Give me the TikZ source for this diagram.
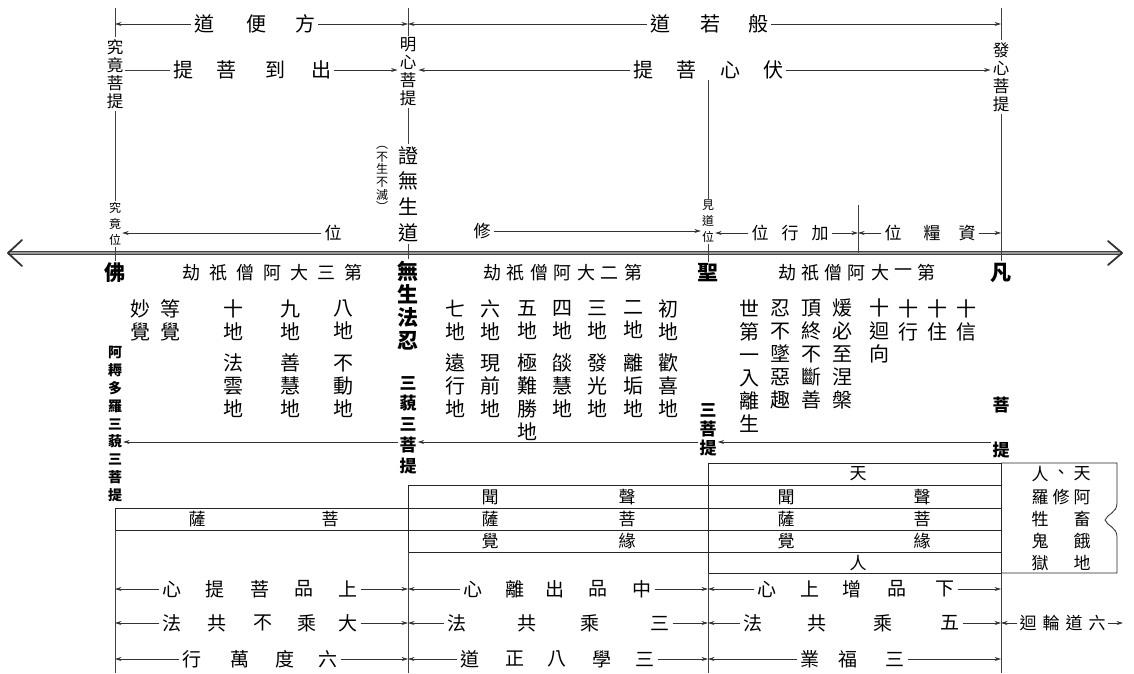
\documentclass[tikz,border=0pt]{standalone}
\usepackage{fontspec}
\setmainfont{Noto Sans CJK TC}
\usetikzlibrary{arrows.meta}

\begin{document}
\begin{tikzpicture}[x=1pt,y=-1pt,
    arr/.style={-{Stealth[length=6.5pt,width=4pt]}, line width=0.6pt, draw=black!80},
    vline/.style={line width=0.7pt, draw=black!75},
    box/.style={line width=0.8pt, draw=black!85},
    axis/.style={draw=black!75, double=black!40, line width=1.2pt, double distance=1.6pt},
    chev/.style={line width=1.8pt, draw=black!80, line cap=round, line join=round},
    lbl/.style={font=\fontsize{20}{24}\selectfont, inner sep=3pt},
    rowlbl/.style={font=\fontsize{19}{22}\selectfont, inner sep=3pt},
    poslbl/.style={font=\fontsize{17}{20}\selectfont, inner sep=3pt},
    vert/.style={font=\fontsize{16.5}{18}\selectfont, align=center, inner sep=2pt},
    smallvert/.style={font=\fontsize{12}{16}\selectfont, align=center, inner sep=1pt},
    colm/.style={font=\fontsize{20}{23}\selectfont, align=center, inner sep=0pt},
    kalpa/.style={font=\fontsize{18}{20}\selectfont, inner sep=0pt},
    stage/.style={font=\fontsize{21}{23}\selectfont\bfseries, align=center, inner sep=2pt},
    bsmall/.style={font=\fontsize{17}{20}\selectfont\bfseries, align=center, inner sep=1pt},
    boxt/.style={font=\fontsize{17}{20}\selectfont, inner sep=0pt},
    ]
    \useasboundingbox (0,0) rectangle (1134,673);

    \pgfmathsetmacro{\axy}{253}

    \coordinate (jj) at (115,0);
    \coordinate (mx) at (408,0);
    \coordinate (jd) at (708,0);
    \coordinate (fx) at (1001,0);
    \coordinate (zl) at (858,0);
    \coordinate (ar) at (0,442);

    \coordinate (jjtop) at (115,8);
    \coordinate (mxtop) at (408,8);
    \coordinate (fxtop) at (1001,8);
    \coordinate (jdtop) at (708,80);
    \coordinate (zltop) at (858,205);
    \coordinate (zlbot) at (858,\axy);
    \coordinate (lhend) at (1123,623);

    % main axis
    \coordinate (axl) at (8,\axy);
    \coordinate (axr) at (1122,\axy);
    \draw[axis] (axl) -- (axr);
    \draw[chev] (axl) ++(14,-13) -- (axl) -- ++(14,13);
    \draw[chev] (axr) ++(-14,-12) -- (axr) -- ++(-14,12);

    % vertical labels
    \node[vert] (jjpt) at (115,74) {究\\竟\\菩\\提};
    \node[vert] (mxpt) at (408,72) {明\\心\\菩\\提};
    \node[vert] (fxpt) at (1001,77) {發\\心\\菩\\提};
    \node[smallvert] (jjw) at (115,224) {究\\竟\\位};
    \node[smallvert] (jdw) at (708,221) {見\\道\\位};
    \node[font=\fontsize{20}{25.7}\selectfont, align=center, inner sep=2pt] (zw) at (408,194) {證\\無\\生\\道};
    \node[font=\fontsize{12}{12.6}\selectfont, align=center, inner sep=0pt] (bsbm) at (382,179) {︵\\不\\生\\不\\滅\\︶};

    \node[stage] (fo) at (115,273) {佛};
    \node[stage] (wsfr) at (408,306) {無\\生\\法\\忍};
    \node[stage] (sheng) at (708,273) {聖};
    \node[stage] (fan) at (1001,273) {凡};

    \draw[vline] (jjtop) -- (jjpt.north);
    \draw[vline] (jjpt.south) -- (jjw.north);
    \draw[vline] (jjw.south) -- (fo.north);
    \draw[vline] (mxtop) -- (mxpt.north);
    \draw[vline] (mxpt.south) -- (zw.north);
    \draw[vline] (zw.south) -- (wsfr.north);
    \draw[vline] (jdtop) -- (jdw.north);
    \draw[vline] (jdw.south) -- (sheng.north);
    \draw[vline] (fxtop) -- (fxpt.north);
    \draw[vline] (fxpt.south) -- (fan.north);
    \draw[vline] (zltop) -- (zlbot);

    % row 1
    \foreach \c/\x [count=\i] in {道/204,便/256,方/305}
        \node[lbl] (fb\i) at (\x,24) {\c};
    \draw[arr] (fb1.west) -- (fb1.west -| jj);
    \draw[arr] (fb3.east) -- (fb3.east -| mx);
    \foreach \c/\x [count=\i] in {道/660,若/710,般/758}
        \node[lbl] (br\i) at (\x,24) {\c};
    \draw[arr] (br1.west) -- (br1.west -| mx);
    \draw[arr] (br3.east) -- (br3.east -| fx);

    % row 2
    \foreach \c/\x [count=\i] in {提/183,菩/226,到/275,出/321}
        \node[lbl] (cd\i) at (\x,70) {\c};
    \draw[vline] (cd1.west) -- (jjpt.east |- cd1.west);
    \draw[arr] (cd4.east) -- (mxpt.west |- cd4.east);
    \foreach \c/\x [count=\i] in {提/643,菩/686,心/730,伏/773}
        \node[lbl] (fs\i) at (\x,70) {\c};
    \draw[arr] (fs1.west) -- (mxpt.east |- fs1.west);
    \draw[arr] (fs4.east) -- (fxpt.west |- fs4.east);

    % row 3
    \node[poslbl] (xw) at (333,233) {位};
    \draw[arr] (xw.west) -- (jjw.east |- xw.west);
    \node[poslbl] (xiu) at (482,231) {修};
    \draw[arr] (xiu.east) -- (jdw.west |- xiu.east);
    \foreach \c/\x [count=\i] in {位/760,行/790,加/820}
        \node[poslbl] (jx\i) at (\x,233) {\c};
    \draw[arr] (jx1.west) -- (jdw.east |- jx1.west);
    \draw[arr] (jx3.east) -- (jx3.east -| zl);
    \foreach \c/\x [count=\i] in {位/893,糧/932,資/967}
        \node[poslbl] (zy\i) at (\x,233) {\c};
    \draw[arr] (zy1.west) -- (zy1.west -| zl);
    \draw[arr] (zy3.east) -- (zy3.east -| fx);

    % kalpas
    \foreach \c [count=\i] in {劫,祇,僧,阿,大,三,第}
        \node[kalpa] (ka\i) at ({191+27*(\i-1)},273) {\c};
    \foreach \c [count=\i] in {劫,祇,僧,阿,大,二,第}
        \node[kalpa] (kb\i) at ({492+23.5*(\i-1)},273) {\c};
    \foreach \c [count=\i] in {劫,祇,僧,阿,大,一,第}
        \node[kalpa] (kc\i) at ({787+23.3*(\i-1)},273) {\c};

    % third kalpa stages
    \node[colm] (miao) at (140,320) {妙\\覺};
    \node[colm] (deng) at (170,320) {等\\覺};
    \foreach \x/\n/\p/\q [count=\i] in {233/十/法/雲,290/九/善/慧,343/八/不/動}{
        \node[colm] (d3a\i) at (\x,320) {\n\\地};
        \node[colm] (d3b\i) at (\x,386) {\p\\\q\\地};
    }

    % second kalpa stages
    \foreach \x/\n/\p/\q [count=\i] in {455/七/遠/行,490/六/現/前,562/四/燄/慧,597/三/發/光,633/二/離/垢,668/初/歡/喜}{
        \node[colm] (d2a\i) at (\x,320) {\n\\地};
        \node[colm] (d2b\i) at (\x,386) {\p\\\q\\地};
    }
    \node[colm] (wua) at (527,320) {五\\地};
    \node[colm] (wub) at (527,397.5) {極\\難\\勝\\地};

    % first kalpa stages
    \node[colm] (shid) at (749,366) {世\\第\\一\\入\\離\\生};
    \node[colm] (ren) at (780,354) {忍\\不\\墜\\惡\\趣};
    \node[colm] (ding) at (811,354) {頂\\終\\不\\斷\\善};
    \node[colm] (nuan) at (842,354) {煖\\必\\至\\涅\\槃};
    \node[colm] (shh) at (879,331) {十\\迴\\向};
    \node[colm] (shx) at (908,320) {十\\行};
    \node[colm] (shz) at (937,320) {十\\住};
    \node[colm] (shs) at (966,320) {十\\信};

    % bodhi
    \node[bsmall, font=\fontsize{14}{17.9}\selectfont\bfseries] (anu) at (115,424) {阿\\耨\\多\\羅\\三\\藐\\三\\菩\\提};
    \node[bsmall, font=\fontsize{17}{20.75}\selectfont\bfseries] (smsp) at (408,425) {三\\藐\\三\\菩\\提};
    \node[bsmall, font=\fontsize{17}{19}\selectfont\bfseries] (sanp) at (708,430) {三\\菩\\提};
    \node[bsmall] (pu) at (1001,405) {菩};
    \node[bsmall] (ti) at (1001,450) {提};
    \draw[arr] (smsp.west |- ar) -- (anu.east |- ar);
    \draw[arr] (sanp.west |- ar) -- (smsp.east |- ar);
    \draw[arr] (ti.west |- ar) -- (sanp.east |- ar);

    % vehicles table
    \draw[box] (115,508) rectangle (408,530);
    \draw[box] (408,485) rectangle (708,552);
    \draw[box] (408,508) -- (708,508) (408,530) -- (708,530);
    \draw[box] (708,463) rectangle (1001,573);
    \foreach \y in {485,508,530,552}
        \draw[box] (708,\y) -- (1001,\y);
    \draw[box] (1001,463) -- (1117,463) -- (1117,503)
        .. controls (1117,513) and (1107,514) .. (1105,520)
        .. controls (1107,526) and (1117,527) .. (1117,537) -- (1117,573) -- (1001,573);
    \draw[vline] (115,530) -- (115,673);
    \draw[vline] (408,552) -- (408,673);
    \draw[vline] (708,573) -- (708,673);
    \draw[vline] (1001,573) -- (1001,673);

    \node[boxt] (sa3) at (197,519) {薩};
    \node[boxt] (pu3) at (330,519) {菩};
    \foreach \a/\b/\y [count=\i] in {聞/聲/497,薩/菩/519,覺/緣/541}{
        \node[boxt] (l2\i) at (490,\y) {\a};
        \node[boxt] (r2\i) at (627,\y) {\b};
        \node[boxt] (l1\i) at (786,\y) {\a};
        \node[boxt] (r1\i) at (922,\y) {\b};
    }
    \node[boxt] (tian) at (858,474) {天};
    \node[boxt] (ren1) at (858,563) {人};
    \foreach \a/\b/\c/\y [count=\i] in {人/、/天/474,羅/修/阿/497,牲/{}/畜/519,鬼/{}/餓/541,獄/{}/地/563}{
        \node[boxt] (lq\i) at (1040,\y) {\a};
        \node[boxt] (mq\i) at (1061,\y) {\b};
        \node[boxt] (rq\i) at (1082,\y) {\c};
    }

    % bottom rows
    \foreach \c/\x [count=\i] in {心/172,提/215,菩/260,品/304,上/348}
        \node[rowlbl] (a3\i) at (\x,589) {\c};
    \draw[arr] (a31.west) -- (a31.west -| jj);
    \draw[arr] (a35.east) -- (a35.east -| mx);
    \foreach \c/\x [count=\i] in {法/172,共/217,不/263,乘/307,大/348}
        \node[rowlbl] (b3\i) at (\x,623) {\c};
    \draw[arr] (b31.west) -- (b31.west -| jj);
    \draw[arr] (b35.east) -- (b35.east -| mx);
    \foreach \c/\x [count=\i] in {行/192,萬/240,度/285,六/328}
        \node[rowlbl] (c3\i) at (\x,659) {\c};
    \draw[arr] (c31.west) -- (c31.west -| jj);
    \draw[arr] (c34.east) -- (c34.east -| mx);

    \foreach \c/\x [count=\i] in {心/473,離/515,出/555,品/598,中/642}
        \node[rowlbl] (a2\i) at (\x,589) {\c};
    \draw[arr] (a21.west) -- (a21.west -| mx);
    \draw[arr] (a25.east) -- (a25.east -| jd);
    \foreach \c/\x [count=\i] in {法/457,共/527,乘/590,三/660}
        \node[rowlbl] (b2\i) at (\x,623) {\c};
    \draw[arr] (b21.west) -- (b21.west -| mx);
    \draw[arr] (b24.east) -- (b24.east -| jd);
    \foreach \c/\x [count=\i] in {道/470,正/515,八/557,學/602,三/645}
        \node[rowlbl] (c2\i) at (\x,659) {\c};
    \draw[arr] (c21.west) -- (c21.west -| mx);
    \draw[arr] (c25.east) -- (c25.east -| jd);

    \foreach \c/\x [count=\i] in {心/767,上/810,增/852,品/897,下/945}
        \node[rowlbl] (a1\i) at (\x,589) {\c};
    \draw[arr] (a11.west) -- (a11.west -| jd);
    \draw[arr] (a15.east) -- (a15.east -| fx);
    \foreach \c/\x [count=\i] in {法/753,共/817,乘/883,五/950}
        \node[rowlbl] (b1\i) at (\x,623) {\c};
    \draw[arr] (b11.west) -- (b11.west -| jd);
    \draw[arr] (b14.east) -- (b14.east -| fx);
    \foreach \c/\x [count=\i] in {業/810,福/848,三/895}
        \node[rowlbl] (c1\i) at (\x,659) {\c};
    \draw[arr] (c11.west) -- (c11.west -| jd);
    \draw[arr] (c13.east) -- (c13.east -| fx);

    \foreach \c/\x [count=\i] in {迴/1028,輪/1051,道/1074,六/1097}
        \node[boxt, inner sep=2pt] (lh\i) at (\x,623) {\c};
    \draw[arr] (lh1.west) -- (lh1.west -| fx);
    \draw[arr] (lh4.east) -- (lhend);

\end{tikzpicture}
\end{document}
